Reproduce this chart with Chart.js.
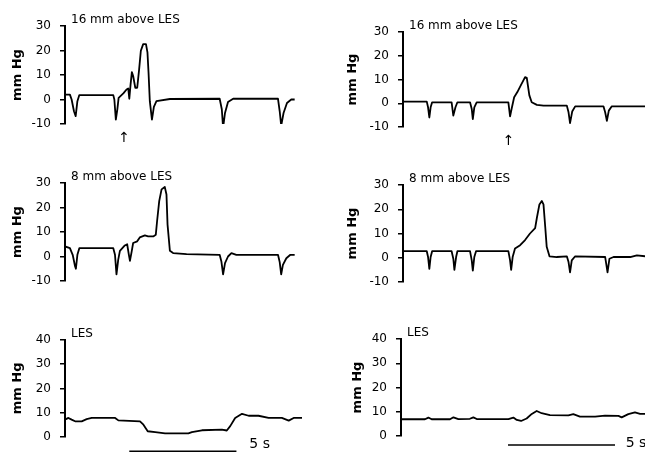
<!DOCTYPE html>
<html>
<head>
<meta charset="utf-8">
<script src="https://cdn.jsdelivr.net/npm/chart.js@4.4.1/dist/chart.umd.min.js"></script>
<style>
  html, body { margin: 0; padding: 0; background: #fff; }
  #wrap { position: relative; width: 645px; height: 453px; overflow: hidden; }
  #wrap canvas { position: absolute; }
</style>
</head>
<body>
<div id="wrap">
  <canvas id="c1" width="320" height="150" style="left:0;top:0"></canvas>
  <canvas id="c2" width="325" height="150" style="left:320px;top:0"></canvas>
  <canvas id="c3" width="320" height="150" style="left:0;top:150px"></canvas>
  <canvas id="c4" width="325" height="150" style="left:320px;top:150px"></canvas>
  <canvas id="c5" width="320" height="153" style="left:0;top:300px"></canvas>
  <canvas id="c6" width="325" height="153" style="left:320px;top:300px"></canvas>
</div>
<script>
// time in seconds from the start of each trace, pressure in mm Hg

// left column, 16 mm above LES
let leftUpperSec = [0, 0.23, 0.31, 0.42, 0.50, 0.58, 0.67, 2.26, 2.31, 2.38, 2.45, 2.51, 2.73, 2.88, 2.96, 3.01, 3.07, 3.13, 3.19, 3.29, 3.38, 3.47, 3.55, 3.66, 3.79, 3.86, 3.91, 3.97, 4.07, 4.16, 4.28, 4.91, 7.24, 7.34, 7.40, 7.49, 7.63, 7.87, 9.97, 10.05, 10.12, 10.23, 10.39, 10.59, 10.75]
let leftUpperMmHg = [2, 2, 0, -4.8, -6.8, -0.7, 1.8, 1.8, 0, -8.2, -4, 0.7, 2.5, 4.1, 4.5, 0.3, 6.2, 11.2, 9.6, 4.8, 4.8, 12.3, 19.9, 22.6, 22.6, 19.2, 11, -0.7, -8.2, -3, -0.7, 0.2, 0.3, -4, -11.5, -5.5, -1, 0.3, 0.3, -4.8, -10.7, -5.5, -1.4, 0, 0]

// right column, 16 mm above LES
let rightUpperSec = [0, 1.11, 1.17, 1.23, 1.29, 1.36, 2.27, 2.35, 2.45, 2.54, 3.13, 3.21, 3.26, 3.33, 3.44, 4.92, 5.00, 5.08, 5.19, 5.34, 5.50, 5.70, 5.78, 5.90, 6.01, 6.25, 6.56, 7.65, 7.73, 7.80, 7.90, 8.04, 9.36, 9.44, 9.52, 9.61, 9.75, 11.31]
let rightUpperMmHg = [0.7, 0.7, -1.7, -6, -1.7, 0.4, 0.4, -5.2, -1.7, 0.4, 0.4, -2.4, -6.7, -1.7, 0.4, 0.4, -5.5, -2, 2.5, 4.7, 7.5, 11, 10.7, 3.3, 0.4, -0.7, -1, -1, -3.8, -8.4, -3.5, -1.3, -1.3, -3.8, -7.4, -3.1, -1.3, -1.3]

// left column, 8 mm above LES
let leftMidSec = [0, 0.23, 0.36, 0.47, 0.51, 0.58, 0.67, 2.26, 2.34, 2.41, 2.49, 2.57, 2.80, 2.91, 2.99, 3.04, 3.12, 3.19, 3.38, 3.50, 3.74, 3.89, 4.13, 4.25, 4.31, 4.41, 4.52, 4.67, 4.75, 4.80, 4.91, 5.06, 5.69, 7.24, 7.32, 7.40, 7.49, 7.63, 7.79, 8.02, 9.97, 10.05, 10.12, 10.20, 10.36, 10.55, 10.75]
let leftMidMmHg = [4.1, 3.4, 0.7, -4, -5, 0.7, 3.4, 3.4, 0.7, -7.3, -1.4, 2.3, 4.5, 5, 0.7, -1.8, 2, 5.5, 6.2, 7.8, 8.6, 8.2, 8.2, 8.9, 14.4, 22.6, 27.4, 28.4, 25.3, 13, 2.3, 1.4, 1, 0.7, -2, -7.3, -2.7, 0, 1.4, 0.7, 0.7, -2.3, -7.3, -3.4, -0.7, 0.7, 0.7]

// right column, 8 mm above LES
let rightMidSec = [0, 1.11, 1.17, 1.23, 1.29, 1.36, 2.27, 2.35, 2.40, 2.48, 2.54, 3.13, 3.21, 3.26, 3.33, 3.41, 4.92, 5.00, 5.05, 5.12, 5.23, 5.47, 5.70, 5.93, 6.17, 6.25, 6.37, 6.48, 6.56, 6.64, 6.71, 6.84, 7.18, 7.65, 7.73, 7.80, 7.88, 8.04, 9.44, 9.49, 9.55, 9.64, 9.83, 10.61, 10.92, 11.31]
let rightMidMmHg = [2.7, 2.7, 0.3, -4.6, 0.3, 2.7, 2.7, -0.4, -5, 0.3, 2.7, 2.7, -1.1, -5.3, 0.3, 2.7, 2.7, -1.1, -5, 0.3, 3.8, 5.2, 7.3, 10, 12.2, 16.4, 22, 23.4, 22, 12.9, 4.5, 0.6, 0.3, 0.6, -1.8, -6, -1.1, 0.6, 0.3, -2.5, -6, -0.4, 0.3, 0.3, 1, 0.6]

// left column, LES
let leftLesSec = [0, 0.16, 0.31, 0.47, 0.78, 1.01, 1.25, 2.34, 2.49, 3.50, 3.66, 3.86, 4.21, 4.67, 5.76, 5.92, 6.39, 7.32, 7.55, 7.71, 7.94, 8.26, 8.57, 9.03, 9.50, 10.12, 10.44, 10.67, 11.06]
let leftLesMmHg = [7.1, 7.8, 7.1, 6.4, 6.4, 7.3, 7.8, 7.8, 6.8, 6.4, 5, 2.3, 1.9, 1.4, 1.4, 1.9, 2.7, 3, 2.6, 4.4, 7.8, 9.5, 8.7, 8.7, 7.8, 7.8, 6.7, 7.8, 7.8]

// right column, LES
let rightLesSec = [0, 1.12, 1.28, 1.43, 2.29, 2.45, 2.68, 3.22, 3.38, 3.54, 5.02, 5.25, 5.41, 5.61, 5.87, 6.11, 6.34, 6.57, 6.96, 7.82, 8.05, 8.36, 9.07, 9.53, 10.16, 10.31, 10.62, 10.93, 11.17, 11.40]
let rightLesMmHg = [6.9, 6.9, 7.6, 6.9, 6.9, 7.7, 7, 7.1, 7.7, 7, 7, 7.6, 6.6, 6.2, 7.2, 9.1, 10.3, 9.4, 8.6, 8.5, 9, 8, 8, 8.4, 8.3, 7.7, 9, 9.7, 9.1, 9.1]

let esophTicks = [-10, 0, 10, 20, 30]
let lesTicks = [0, 10, 20, 30, 40]
let panelTitles = ["16 mm above LES", "16 mm above LES", "8 mm above LES", "8 mm above LES", "LES", "LES"]

// swallow markers (arrows) and 5 s time bars
let arrowSec = [2.77, 4.93]
let arrowMmHg = -16
let timeBarSec = [[3, 8], [5, 10]]
let timeBarMmHg = [-6, -3.7]
let timeBarLabel = "5 s"
let timeBarLabelSec = [8.6, 10.5]
let timeBarLabelMmHg = -3.2

let font = "DejaVu Sans"

let panelText = {
  id: "panelText",
  afterDraw(chart, args, opts) {
    let ctx = chart.ctx
    let a = chart.chartArea
    let xs = chart.scales.x, ys = chart.scales.y
    ctx.save()
    ctx.fillStyle = "#000"
    ctx.font = "12px '" + font + "'"
    ctx.textAlign = "left"
    ctx.textBaseline = "alphabetic"
    ctx.fillText(opts.title, a.left + 6, a.top - 3)
    if (opts.arrowAt != null) {
      ctx.font = "14px '" + font + "'"
      ctx.textAlign = "center"
      ctx.textBaseline = "middle"
      ctx.fillText("\u2191", xs.getPixelForValue(opts.arrowAt), ys.getPixelForValue(arrowMmHg))
    }
    if (opts.barLabelAt != null) {
      ctx.font = "14px '" + font + "'"
      ctx.textAlign = "left"
      ctx.textBaseline = "middle"
      ctx.fillText(timeBarLabel, xs.getPixelForValue(opts.barLabelAt), ys.getPixelForValue(timeBarLabelMmHg))
    }
    ctx.restore()
  }
}

function pairs(xs, ys) {
  return xs.map((x, i) => ({ x: x, y: ys[i] }))
}

function makePanel(id, p) {
  let datasets = [{
    data: pairs(p.sec, p.mmHg),
    borderColor: "#000",
    borderWidth: 1.8,
    pointRadius: 0,
    tension: 0,
    borderJoinStyle: "round"
  }]
  if (p.bar) {
    datasets.push({
      data: pairs(p.bar, [p.barY, p.barY]),
      borderColor: "#000",
      borderWidth: 1.5,
      pointRadius: 0,
      clip: false
    })
  }
  new Chart(document.getElementById(id), {
    type: "line",
    data: { datasets: datasets },
    options: {
      responsive: false,
      animation: false,
      devicePixelRatio: 1,
      layout: { padding: { left: 0, top: p.top, bottom: p.bottom, right: p.right } },
      plugins: {
        legend: { display: false },
        tooltip: { enabled: false },
        panelText: { title: p.title, arrowAt: p.arrowAt, barLabelAt: p.barLabelAt }
      },
      scales: {
        x: { type: "linear", display: false, min: 0, max: p.xMax },
        y: {
          min: p.ticks[0],
          max: p.ticks[p.ticks.length - 1],
          afterBuildTicks: s => { s.ticks = p.ticks.map(v => ({ value: v })) },
          afterFit: s => { s.width = p.axisW },
          ticks: { color: "#000", font: { family: font, size: 12 }, padding: 9 },
          grid: { drawOnChartArea: false, drawTicks: true, tickLength: 5, color: "#000", lineWidth: 1.5 },
          border: { display: true, color: "#000", width: 2 },
          title: {
            display: true, text: "mm Hg", color: "#000",
            font: { family: font, size: 13, weight: "bold" },
            padding: { top: p.titlePad, bottom: 0 }
          }
        }
      }
    },
    plugins: [panelText]
  })
}

makePanel("c1", { sec: leftUpperSec, mmHg: leftUpperMmHg, ticks: esophTicks, title: panelTitles[0],
  arrowAt: arrowSec[0], xMax: 11, axisW: 65, top: 26, bottom: 26, right: 20, titlePad: 10 })
makePanel("c2", { sec: rightUpperSec, mmHg: rightUpperMmHg, ticks: esophTicks, title: panelTitles[1],
  arrowAt: arrowSec[1], xMax: 11.3, axisW: 83, top: 32, bottom: 23, right: 0, titlePad: 25 })
makePanel("c3", { sec: leftMidSec, mmHg: leftMidMmHg, ticks: esophTicks, title: panelTitles[2],
  xMax: 11, axisW: 65, top: 33, bottom: 19, right: 20, titlePad: 10 })
makePanel("c4", { sec: rightMidSec, mmHg: rightMidMmHg, ticks: esophTicks, title: panelTitles[3],
  xMax: 11.3, axisW: 83, top: 35, bottom: 18, right: 0, titlePad: 25 })
makePanel("c5", { sec: leftLesSec, mmHg: leftLesMmHg, ticks: lesTicks, title: panelTitles[4],
  bar: timeBarSec[0], barY: timeBarMmHg[0], barLabelAt: timeBarLabelSec[0],
  xMax: 11.2, axisW: 65, top: 40, bottom: 16, right: 15, titlePad: 10 })
makePanel("c6", { sec: rightLesSec, mmHg: rightLesMmHg, ticks: lesTicks, title: panelTitles[5],
  bar: timeBarSec[1], barY: timeBarMmHg[1], barLabelAt: timeBarLabelSec[1],
  xMax: 11.4, axisW: 81, top: 39, bottom: 17, right: 0, titlePad: 30 })
</script>
</body>
</html>
